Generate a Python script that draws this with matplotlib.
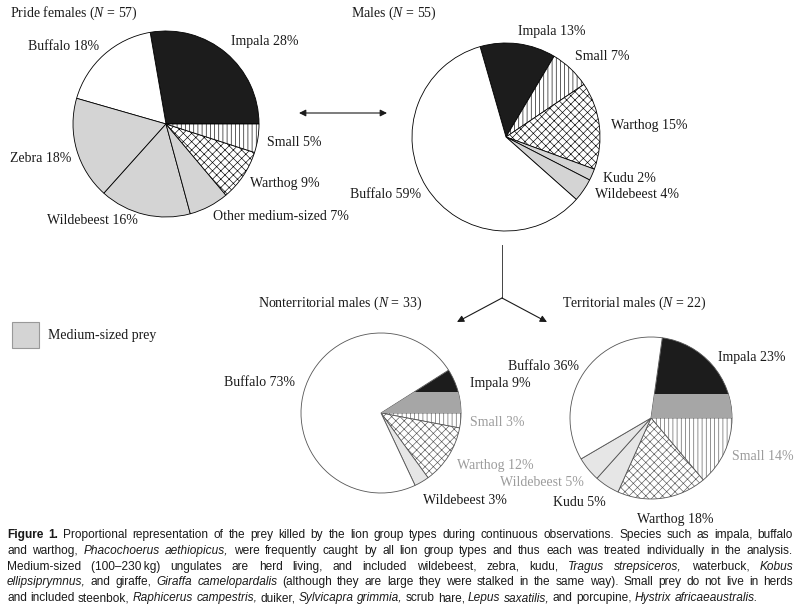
"""
Lion prey composition by group type: four pies plus a justified caption,
laid out on one pixel-sized canvas (800 x 614).
"""

import matplotlib
matplotlib.use("Agg")
import matplotlib.pyplot as plt
from matplotlib import font_manager
from matplotlib.patches import Rectangle

W, H = 800, 614

# % of kills per prey type, in the order the wedges are drawn
PF_PREY = ["Impala", "Buffalo", "Zebra", "Wildebeest", "Other medium-sized", "Warthog", "Small"]
PF_PCT = [28, 18, 18, 16, 7, 9, 5]

M_PREY = ["Impala", "Small", "Warthog", "Kudu", "Wildebeest", "Buffalo"]
M_PCT = [13, 7, 15, 2, 4, 59]

NT_PREY = ["Impala", "Small", "Warthog", "Wildebeest", "Buffalo"]
NT_PCT = [9, 3, 12, 3, 73]

T_PREY = ["Impala", "Small", "Warthog", "Kudu", "Wildebeest", "Buffalo"]
T_PCT = [23, 14, 18, 5, 5, 36]

CAPTION = [
    "^Figure 1.^ Proportional representation of the prey killed by the lion group types during continuous observations. Species such as impala, buffalo",
    "and warthog, _Phacochoerus aethiopicus,_ were frequently caught by all lion group types and thus each was treated individually in the analysis.",
    "Medium-sized (100\u2013230\u2009kg) ungulates are herd living, and included wildebeest, zebra, kudu, _Tragus strepsiceros,_ waterbuck, _Kobus_",
    "_ellipsiprymnus,_ and giraffe, _Giraffa camelopardalis_ (although they are large they were stalked in the same way). Small prey do not live in herds",
    "and included steenbok, _Raphicerus campestris,_ duiker, _Sylvicapra grimmia,_ scrub hare, _Lepus saxatilis,_ and porcupine, _Hystrix africaeaustralis._",
]

SERIF = "Liberation Serif"
INK = "#1a1a1a"
GREY_TXT = "#9c9c9c"
MEDIUM = "#d4d4d4"

plt.rcParams.update({
    "font.family": SERIF,
    "mathtext.fontset": "custom",
    "mathtext.rm": "Liberation Serif",
    "mathtext.it": "Liberation Serif:italic",
    "hatch.linewidth": 0.45,
})

FILL = {"Impala": "#1c1c1c", "Buffalo": "white", "Zebra": MEDIUM, "Wildebeest": MEDIUM,
        "Other medium-sized": MEDIUM, "Kudu": MEDIUM, "Warthog": "white", "Small": "white"}
FILL_LOW = {"Wildebeest": "#e6e6e6", "Kudu": "#e6e6e6"}   # bottom pies print lighter
HATCH = {"Warthog": "xxxx", "Small": "||||"}

PANELS = [
    dict(title="Pride females ($N$ = 57)", title_xy=(10, 13), prey=PF_PREY, pct=PF_PCT,
         center=(166, 124), r=93, start=0, ccw=True, edge="black", low=False, band=0,
         grey=set(),
         labels={"Impala": (231, 42), "Buffalo": (28, 46), "Zebra": (10, 159),
                 "Wildebeest": (47, 220), "Other medium-sized": (213, 217),
                 "Warthog": (250, 184), "Small": (267, 143)}),
    dict(title="Males ($N$ = 55)", title_xy=(351, 13), prey=M_PREY, pct=M_PCT,
         center=(506, 137), r=94, start=106, ccw=False, edge="black", low=False, band=0,
         grey=set(),
         labels={"Impala": (518, 32), "Small": (575, 57), "Warthog": (611, 126),
                 "Kudu": (603, 179), "Wildebeest": (595, 195), "Buffalo": (350, 195)}),
    dict(title="Nonterritorial males ($N$ = 33)", title_xy=(258, 303), prey=NT_PREY, pct=NT_PCT,
         center=(381, 413), r=80, start=32.4, ccw=False, edge="#555555", low=True, band=21,
         grey={"Small", "Warthog"},
         labels={"Impala": (470, 383), "Small": (470, 422), "Warthog": (457, 465),
                 "Wildebeest": (423, 500), "Buffalo": (224, 383)}),
    dict(title="Territorial males ($N$ = 22)", title_xy=(562, 303), prey=T_PREY, pct=T_PCT,
         center=(651, 418), r=81, start=82, ccw=False, edge="#555555", low=True, band=24,
         grey={"Small", "Wildebeest"},
         labels={"Impala": (718, 357), "Small": (732, 457), "Warthog": (637, 520),
                 "Kudu": (553, 502), "Wildebeest": (500, 482), "Buffalo": (508, 366)}),
]


def fy(y):
    return H - y


def draw_pie(ax, p):
    cx, cy = p["center"]
    colors = [FILL_LOW.get(k, FILL[k]) if p["low"] else FILL[k] for k in p["prey"]]
    wedges, _ = ax.pie(p["pct"], center=(cx, fy(cy)), radius=p["r"], startangle=p["start"],
                       counterclock=p["ccw"], colors=colors, frame=True,
                       wedgeprops=dict(edgecolor=p["edge"], linewidth=0.6))
    for w, k in zip(wedges, p["prey"]):
        if k in HATCH:
            w.set_hatch(HATCH[k])
    if p["band"]:
        # grey print band across the lower part of the impala wedge
        w = wedges[0]
        band = Rectangle((cx - p["r"], fy(cy)), 2 * p["r"], p["band"],
                         facecolor="#a6a6a6", edgecolor="none", zorder=w.get_zorder() + 0.1)
        ax.add_patch(band)
        band.set_clip_path(w)
    for k, v in zip(p["prey"], p["pct"]):
        x, y = p["labels"][k]
        ax.text(x, fy(y), f"{k} {v}%", ha="left", va="center", fontsize=10,
                color=GREY_TXT if k in p["grey"] else INK)
    tx, ty = p["title_xy"]
    ax.text(tx, fy(ty), p["title"], ha="left", va="center", fontsize=10, color=INK)


def parse(line):
    """split a markup line into tokens of (text, bold, italic) pieces"""
    bold = ital = False
    tokens = []
    for word in line.split(" "):
        pieces, buf = [], ""
        for ch in word:
            if ch in "^_":
                if buf:
                    pieces.append((buf, bold, ital)); buf = ""
                if ch == "^":
                    bold = not bold
                else:
                    ital = not ital
            else:
                buf += ch
        if buf:
            pieces.append((buf, bold, ital))
        tokens.append(pieces)
    return tokens


def draw_caption(ax, fig):
    names = {f.name for f in font_manager.fontManager.ttflist}
    fam = "Liberation Sans Narrow" if "Liberation Sans Narrow" in names else "Liberation Sans"
    renderer = fig.canvas.get_renderer()
    x0, x1 = 7, 793
    lines = [parse(l) for l in CAPTION]

    def make(s, b, i, fs):
        return ax.text(0, 0, s, family=fam, fontsize=fs, color=INK, ha="left", va="baseline",
                       fontweight="bold" if b else "normal", fontstyle="italic" if i else "normal")

    def width(t):
        return t.get_window_extent(renderer).width

    def measure(fs):
        arts, widths = [], []
        for toks in lines:
            la, lw = [], []
            for tok in toks:
                ta = [make(s, b, i, fs) for s, b, i in tok]
                la.append(ta)
                lw.append([width(t) for t in ta])
            arts.append(la); widths.append(lw)
        a, b = make("x x", False, False, fs), make("xx", False, False, fs)
        sp = width(a) - width(b)
        a.remove(); b.remove()
        return arts, widths, sp

    fs = 8.6
    arts, widths, sp = measure(fs)
    natural = max(sum(map(sum, lw)) + sp * (len(lw) - 1) for lw in widths)
    if natural > (x1 - x0):
        for la in arts:
            for ta in la:
                for t in ta:
                    t.remove()
        fs = fs * (x1 - x0) / natural * 0.99
        arts, widths, sp = measure(fs)

    for n, (la, lw) in enumerate(zip(arts, widths)):
        total = sum(map(sum, lw))
        gap = (x1 - x0 - total) / (len(lw) - 1) if n < len(arts) - 1 else sp
        x = x0
        base = fy(538 + 15.8 * n)
        for ta, tw in zip(la, lw):
            for t, w in zip(ta, tw):
                t.set_position((x, base))
                x += w
            x += gap


fig = plt.figure(figsize=(W / 100, H / 100), dpi=100)
ax = fig.add_axes([0, 0, 1, 1])

for panel in PANELS:
    draw_pie(ax, panel)

# legend swatch
ax.add_patch(Rectangle((12, fy(348)), 27, 26, facecolor=MEDIUM, edgecolor="#999999", lw=0.8))
ax.text(48, fy(335), "Medium-sized prey", ha="left", va="center", fontsize=10, color=INK)

# arrows
arrow = dict(color=INK, lw=0.8, mutation_scale=10, shrinkA=0, shrinkB=0)
ax.annotate("", xy=(387, fy(113)), xytext=(299, fy(113)), arrowprops=dict(arrowstyle="<|-|>", **arrow))
ax.plot([502, 502], [fy(245), fy(298)], color="#444444", lw=0.7)
for tip in [(457, 322), (547, 322)]:
    ax.annotate("", xy=(tip[0], fy(tip[1])), xytext=(502, fy(298)),
                arrowprops=dict(arrowstyle="-|>", **arrow))

draw_caption(ax, fig)

ax.set_xlim(0, W)
ax.set_ylim(0, H)
ax.set_aspect("equal")
ax.axis("off")
fig.savefig("out.png", dpi=100, facecolor="white")
